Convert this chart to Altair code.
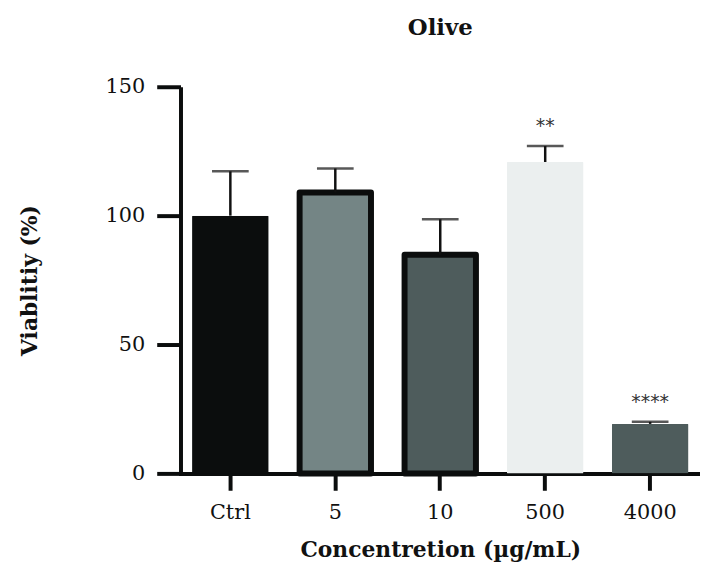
import altair as alt
import pandas as pd

categories = ["Ctrl", "5", "10", "500", "4000"]
means = [100, 109, 84.8, 120.8, 19.2]
errors = [17.2, 9.3, 13.8, 6.2, 0.8]
stars = ["", "", "", "**", "****"]
fills = ["#0b0d0d", "#748585", "#4e5c5c", "#ebefef", "#4e5c5c"]
outlined = [False, True, True, False, False]

df = pd.DataFrame({
    "cat": categories,
    "mean": means,
    "err": errors,
    "top": [m + e for m, e in zip(means, errors)],
    "star": stars,
    "fill": fills,
    "outlined": outlined,
})

x = alt.X("cat:N", sort=categories, scale=alt.Scale(paddingInner=0.27, paddingOuter=0.11),
          axis=alt.Axis(title="Concentretion (µg/mL)", labelAngle=0))
yscale = alt.Scale(domain=[0, 150], nice=False)
yax = alt.Axis(title="Viablitiy (%)", values=[0, 50, 100, 150])

bars = alt.Chart(df).transform_filter("!datum.outlined").mark_bar(cornerRadius=1).encode(
    x=x,
    y=alt.Y("mean:Q", scale=yscale, axis=yax),
    fill=alt.Fill("fill:N", scale=None),
)

obars = alt.Chart(df).transform_filter("datum.outlined").mark_bar(
    stroke="#0b0d0d", strokeWidth=6, strokeJoin="round", width=72).encode(
    x=x,
    y=alt.Y("mean:Q", scale=yscale, axis=yax),
    fill=alt.Fill("fill:N", scale=None),
)

rules = alt.Chart(df).mark_rule(color="#111111", strokeWidth=2.5).encode(
    x=alt.X("cat:N", sort=categories),
    y=alt.Y("mean:Q", scale=yscale),
    y2="top:Q",
)

caps = alt.Chart(df).mark_tick(color="#111111", thickness=2.5, size=37).encode(
    x=alt.X("cat:N", sort=categories),
    y=alt.Y("top:Q", scale=yscale),
)

texts = alt.Chart(df).mark_text(fontSize=19, color="#333333", dy=-20, baseline="middle",
                                font="DejaVu Sans").encode(
    x=alt.X("cat:N", sort=categories),
    y=alt.Y("top:Q", scale=yscale),
    text="star:N",
)

chart = alt.layer(bars, obars, rules, caps, texts).properties(
    width=524,
    height=390,
    title=alt.Title("Olive", fontSize=23, font="DejaVu Serif", fontWeight="bold",
                    anchor="middle", offset=36, color="#111111"),
    autosize=alt.AutoSizeParams(type="none"),
    padding={"left": 174, "top": 77, "right": 0, "bottom": 95},
).configure_view(stroke=None).configure_axis(
    grid=False,
    domainColor="#0b0d0d",
    domainWidth=4,
    tickColor="#0b0d0d",
    tickWidth=4,
    labelFont="DejaVu Serif",
    labelFontSize=21,
    labelColor="#111111",
    titleFont="DejaVu Serif",
    titleFontSize=22,
    titleFontWeight="bold",
    titleColor="#111111",
).configure_axisY(
    tickSize=24,
    labelPadding=12,
    titlePadding=64,
).configure_axisX(
    tickSize=17,
    labelPadding=11,
    titlePadding=18,
    domainCap="square",
)

chart.save("out.html", embed_options={"renderer": "svg", "actions": False})
